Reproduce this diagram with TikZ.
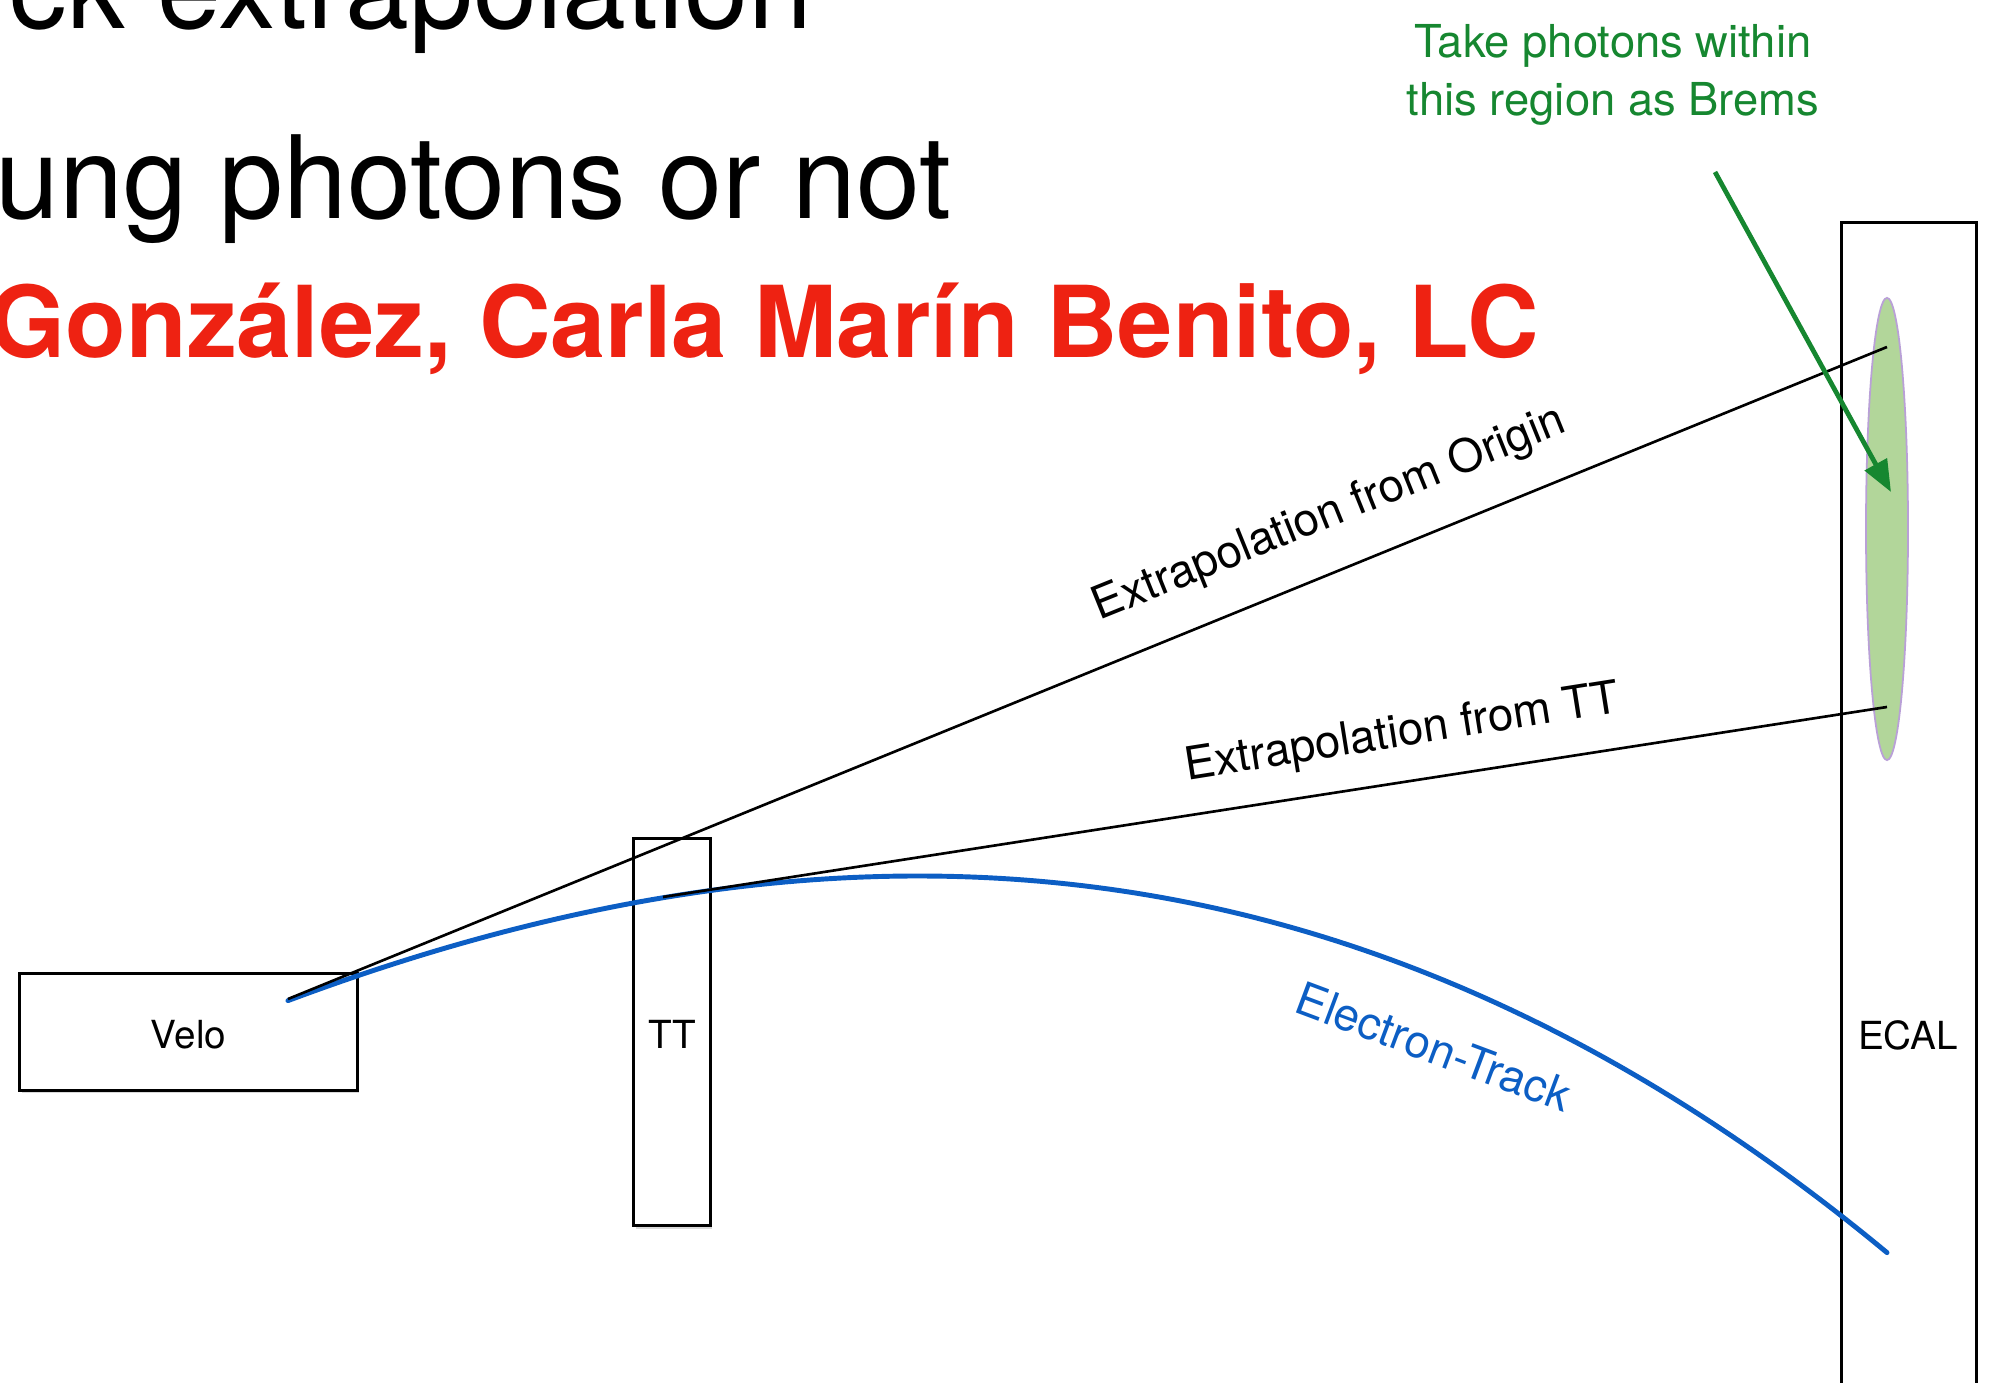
\documentclass[tikz,border=0pt]{standalone}
\usepackage{fontspec}
\setmainfont{TeX Gyre Heros}
\usetikzlibrary{shadows,arrows.meta,shapes.geometric}
\definecolor{titlered}{RGB}{238,34,18}
\definecolor{bremsgreen}{RGB}{22,135,48}
\definecolor{trackblue}{RGB}{12,94,196}
\definecolor{ellfill}{RGB}{178,214,154}
\definecolor{elledge}{RGB}{185,160,215}
\begin{document}
\begin{tikzpicture}[x=0.01cm,y=-0.01cm,
  detbox/.style={draw=black, line width=0.85pt, fill=white, inner sep=0pt, rectangle,
    drop shadow={shadow xshift=0.6pt, shadow yshift=-0.9pt, opacity=0.3},
    text depth=0pt, font=\fontsize{11pt}{13pt}\selectfont},
  bigtitle/.style={anchor=base west, inner sep=0pt, font=\fontsize{32.7pt}{38pt}\selectfont},
  redtitle/.style={anchor=base west, inner sep=0pt, text=titlered, font=\fontsize{28.2pt}{34pt}\selectfont\bfseries},
  linelabel/.style={anchor=base, inner sep=0pt, font=\fontsize{13pt}{15pt}\selectfont},
  greentext/.style={anchor=base, inner sep=0pt, text=bremsgreen, font=\fontsize{12.9pt}{15pt}\selectfont},
  extrap/.style={draw=black, line width=0.75pt},
  track/.style={draw=trackblue, line width=1.4pt, line cap=round},
  pointer/.style={draw=bremsgreen, line width=1.35pt, -{Triangle[length=9pt,width=7pt]}}
]
\useasboundingbox (0,0) rectangle (1999,1383);

% titles (cut at the left edge)
\node[bigtitle] (t1) at (9,29) {ck extrapolation};
\node[bigtitle] (t2) at (-5,219) {ung photons or not};
\node[redtitle] (t3) at (-12,358) {González, Carla Marín Benito, LC};

% detectors
\node[detbox, minimum width=3.37cm, minimum height=1.16cm] (velo) at (188.5,1032) {\raisebox{-1.5pt}{Velo}};
\node[detbox, minimum width=0.76cm, minimum height=3.87cm] (tt) at (672,1032) {\raisebox{-1.5pt}{TT}};
\node[detbox, minimum width=1.34cm, minimum height=12.6cm, anchor=north] (ecalbox) at (1909,221) {};
\node[inner sep=0pt, font=\fontsize{11pt}{13pt}\selectfont] (ecal) at (1908,1035) {ECAL};

% brems region
\node[ellipse, draw=elledge, line width=0.5pt, fill=ellfill, inner sep=0pt,
      minimum width=0.42cm, minimum height=4.62cm] (brems) at (1887,529) {};

% named points
\coordinate (vstart) at (288,999);
\coordinate (oend) at (1887,347);
\coordinate (tstart) at (663,897);
\coordinate (tend) at (1887,707);
\coordinate (astart) at (1715,172);
\coordinate (atip) at (1891,492);

% electron track
\draw[track] plot[domain=288:1887, samples=120, variable=\x]
  (\x, {876+3.483*((\x-918)/100)*((\x-918)/100)+0.0545*((\x-918)/100)*((\x-918)/100)*((\x-918)/100)});

% extrapolations
\draw[extrap] (vstart) -- (oend);
\draw[extrap] (tstart) -- (tend);

% labels
\node[linelabel, rotate=22] (lorig) at (1334,526) {Extrapolation from Origin};
\node[linelabel, rotate=9] (ltt) at (1404,746) {Extrapolation from TT};
\node[linelabel, rotate=-20.5, text=trackblue] (ltrack) at (1428,1062) {Electron-Track};

% annotation
\node[greentext] (g1) at (1613,58) {Take photons within};
\node[greentext] (g2) at (1613,116) {this region as Brems};
\draw[pointer] (astart) -- (atip);
\end{tikzpicture}
\end{document}
